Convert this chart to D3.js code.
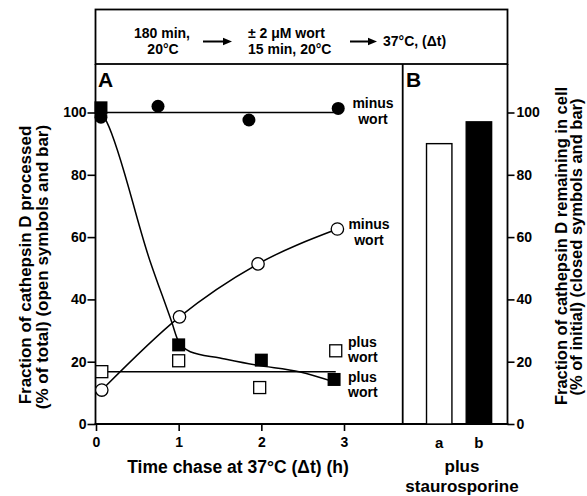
<!DOCTYPE html>
<html>
<head>
<meta charset="utf-8">
<script src="https://cdn.jsdelivr.net/npm/d3@7"></script>
<style>
  html, body { margin: 0; padding: 0; background: #fff; }
  svg { display: block; }
  text { font-family: "Liberation Sans", Arial, Helvetica, sans-serif; font-weight: bold; fill: #000; }
</style>
</head>
<body>
<svg id="chart" width="587" height="496"></svg>
<script>
// ---------------- data ----------------
const timeTicks = [0, 1, 2, 3];
const yTicks = [0, 20, 40, 60, 80, 100];

// closed circles: remaining in cell, minus wort
const closedCircleT = [0.06, 0.75, 1.85, 2.93];
const closedCircleV = [98.5, 102, 97.6, 101.3];
// closed squares: remaining in cell, plus wort
const closedSquareT = [0.06, 1.0, 2.0, 2.88];
const closedSquareV = [101.5, 25.4, 20.5, 14.3];
// open circles: processed, minus wort
const openCircleT = [0.07, 1.01, 1.96, 2.92];
const openCircleV = [10.9, 34.4, 51.4, 62.6];
// open squares: processed, plus wort
const openSquareT = [0.07, 1.0, 1.98, 2.9];
const openSquareV = [16.8, 20.3, 11.7, 23.5];

// drawn fit lines
const fitClosedCircleT = [0, 2.93];
const fitClosedCircleV = [100, 100];
const fitOpenSquareT = [0.07, 2.9];
const fitOpenSquareV = [16.8, 16.8];
const fitClosedSquareT = [0.07, 0.13, 0.65, 0.92, 0.99, 1.14, 1.5, 1.94, 2.47, 2.87];
const fitClosedSquareV = [100, 97, 52.6, 32.4, 27, 23.2, 21.2, 18.9, 16.7, 13.6];
const fitOpenCircleT = [0.07, 1.01, 1.96, 2.92];
const fitOpenCircleV = [10.9, 34.4, 51.4, 62.6];

// panel B bars (plus staurosporine)
const barCategories = ["a", "b"];
const barValues = [90, 97];
const barFilled = [false, true];

// ---------------- layout ----------------
const svg = d3.select("#chart");
const L = 95.5, R = 507.5, TOP = 9.5, MID = 64, BOT = 424, DIV = 402.7;

const x = d3.scaleLinear().domain([0, 3.71]).range([96, DIV]);
const y = d3.scaleLinear().domain([0, 100]).range([BOT, 112.5]);
const xb = d3.scaleBand().domain(barCategories).range([DIV, R])
  .paddingInner(0.36).paddingOuter(0.5).align(0.6);

const frameW = 1.8;

// frame
const frame = svg.append("g").attr("stroke", "#000").attr("stroke-width", frameW).attr("fill", "none");
frame.append("rect").attr("x", L).attr("y", TOP).attr("width", R - L).attr("height", MID - TOP);
frame.append("line").attr("x1", L).attr("x2", L).attr("y1", MID).attr("y2", BOT);
frame.append("line").attr("x1", R).attr("x2", R).attr("y1", MID).attr("y2", BOT);
frame.append("line").attr("x1", DIV).attr("x2", DIV).attr("y1", MID).attr("y2", BOT);
frame.append("line").attr("x1", L - 0.9).attr("x2", R + 0.9).attr("y1", BOT).attr("y2", BOT);

// ---------------- top box ----------------
const tb = svg.append("g").style("font-size", "14px");
tb.append("text").attr("x", 162).attr("y", 38).attr("text-anchor", "middle").text("180 min,");
tb.append("text").attr("x", 163).attr("y", 54).attr("text-anchor", "middle").text("20°C");
tb.append("text").attr("x", 248).attr("y", 38).text("± 2 μM wort");
tb.append("text").attr("x", 248).attr("y", 54).text("15 min, 20°C");
tb.append("text").attr("x", 383).attr("y", 46).text("37°C, (Δt)");
function arrow(x1, x2, yy) {
  svg.append("line").attr("x1", x1).attr("x2", x2 - 7).attr("y1", yy).attr("y2", yy)
    .attr("stroke", "#000").attr("stroke-width", 2);
  svg.append("path").attr("d", `M${x2},${yy} L${x2 - 9},${yy - 3.8} L${x2 - 9},${yy + 3.8} Z`).attr("fill", "#000");
}
arrow(203, 232, 41.5);
arrow(350, 377, 41.5);

// ---------------- axes ----------------
const axFont = "14px";
const fmt = d3.format("d");
const yAxisL = svg.append("g").attr("transform", `translate(${L},0)`)
  .call(d3.axisLeft(y).tickValues(yTicks).tickFormat(fmt).tickSize(8).tickPadding(1).tickSizeOuter(0));
const xAxis = svg.append("g").attr("transform", `translate(0,${BOT})`)
  .call(d3.axisBottom(x).tickValues(timeTicks).tickFormat(fmt).tickSize(7).tickPadding(6).tickSizeOuter(0));
const yAxisR = svg.append("g").attr("transform", `translate(${R},0)`)
  .call(d3.axisRight(y).tickValues(yTicks).tickFormat(fmt).tickSize(7).tickPadding(2).tickSizeOuter(0));
[yAxisL, xAxis, yAxisR].forEach(g => {
  g.select(".domain").remove();
  g.selectAll(".tick line").attr("stroke", "#000").attr("stroke-width", 1.6);
  g.selectAll(".tick text").style("font-size", axFont).style("font-family", "Liberation Sans, Arial, sans-serif")
    .style("font-weight", "bold").attr("fill", "#000");
});

// ---------------- panel A lines ----------------
const lineGen = d3.line().x(d => x(d[0])).y(d => y(d[1]));
const zipTV = (t, v) => t.map((tt, i) => [tt, v[i]]);
const lines = svg.append("g").attr("fill", "none").attr("stroke", "#000").attr("stroke-width", 1.5);
lines.append("path").attr("d", lineGen(zipTV(fitClosedCircleT, fitClosedCircleV)));
lines.append("path").attr("d", lineGen(zipTV(fitOpenSquareT, fitOpenSquareV)));
lines.append("path").attr("d", lineGen.curve(d3.curveMonotoneX)(zipTV(fitClosedSquareT, fitClosedSquareV)));
lines.append("path").attr("d", lineGen.curve(d3.curveMonotoneX)(zipTV(fitOpenCircleT, fitOpenCircleV)));

// ---------------- markers ----------------
const marks = svg.append("g");
marks.selectAll(".os").data(zipTV(openSquareT, openSquareV)).join("rect")
  .attr("x", d => x(d[0]) - 6).attr("y", d => y(d[1]) - 6).attr("width", 12).attr("height", 12)
  .attr("fill", "#fff").attr("stroke", "#000").attr("stroke-width", 1.3);
marks.selectAll(".oc").data(zipTV(openCircleT, openCircleV)).join("circle")
  .attr("cx", d => x(d[0])).attr("cy", d => y(d[1])).attr("r", 6.2)
  .attr("fill", "#fff").attr("stroke", "#000").attr("stroke-width", 1.3);
marks.selectAll(".cc").data(zipTV(closedCircleT, closedCircleV)).join("circle")
  .attr("cx", d => x(d[0])).attr("cy", d => y(d[1])).attr("r", 6.5).attr("fill", "#000");
marks.selectAll(".cs").data(zipTV(closedSquareT, closedSquareV)).join("rect")
  .attr("x", d => x(d[0]) - 6.5).attr("y", d => y(d[1]) - 6.5).attr("width", 13).attr("height", 13)
  .attr("fill", "#000");

// ---------------- panel B bars ----------------
svg.append("g").selectAll("rect").data(barCategories).join("rect")
  .attr("x", d => xb(d)).attr("width", xb.bandwidth())
  .attr("y", (d, i) => y(barValues[i])).attr("height", (d, i) => BOT - y(barValues[i]))
  .attr("fill", (d, i) => barFilled[i] ? "#000" : "#fff")
  .attr("stroke", "#000").attr("stroke-width", 1.4);

svg.append("g").selectAll("text").data(barCategories).join("text")
  .attr("x", d => xb(d) + xb.bandwidth() / 2).attr("y", 448)
  .attr("text-anchor", "middle").style("font-size", "15px").text(d => d);

// ---------------- labels ----------------
const lab = svg.append("g").style("font-size", "14px");
lab.append("text").attr("x", 373).attr("y", 108).attr("text-anchor", "middle").text("minus");
lab.append("text").attr("x", 373).attr("y", 124).attr("text-anchor", "middle").text("wort");
lab.append("text").attr("x", 369).attr("y", 229).attr("text-anchor", "middle").text("minus");
lab.append("text").attr("x", 369).attr("y", 245).attr("text-anchor", "middle").text("wort");
lab.append("text").attr("x", 348).attr("y", 347).text("plus");
lab.append("text").attr("x", 348).attr("y", 362).text("wort");
lab.append("text").attr("x", 348).attr("y", 382).text("plus");
lab.append("text").attr("x", 348).attr("y", 397).text("wort");

svg.append("text").attr("x", 98).attr("y", 87).style("font-size", "21px").text("A");
svg.append("text").attr("x", 406).attr("y", 87).style("font-size", "21px").text("B");

svg.append("text").attr("x", 238).attr("y", 473).attr("text-anchor", "middle")
  .style("font-size", "17.5px").text("Time chase at 37°C (Δt) (h)");
svg.append("text").attr("x", 462).attr("y", 472).attr("text-anchor", "middle")
  .style("font-size", "17px").text("plus");
svg.append("text").attr("x", 462).attr("y", 492).attr("text-anchor", "middle")
  .style("font-size", "17px").text("staurosporine");

function vtitle(cx, cy, txt, fs) {
  svg.append("text").attr("transform", `translate(${cx},${cy}) rotate(-90)`)
    .attr("text-anchor", "middle").style("font-size", fs).text(txt);
}
vtitle(31, 265, "Fraction of cathepsin D processed", "17px");
vtitle(48, 267, "(% of total) (open symbols and bar)", "17px");
vtitle(567, 246, "Fraction of cathepsin D remaining in cell", "16.5px");
vtitle(582, 247, "(% of initial) (closed symbols and bar)", "16.5px");
</script>
</body>
</html>
